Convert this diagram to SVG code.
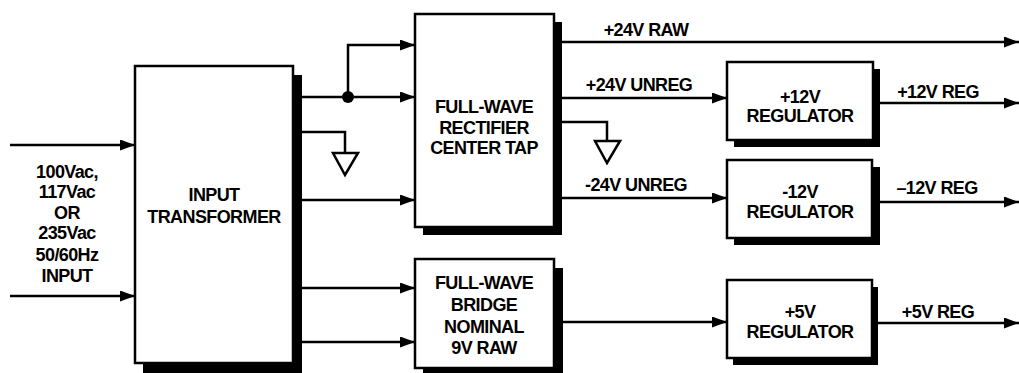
<svg xmlns="http://www.w3.org/2000/svg" width="1019" height="373" viewBox="0 0 1019 373">
<style>
  .box { fill: #fff; stroke: #000; stroke-width: 2.5; }
  .shadow { fill: #000; }
  .t { font-family: "Liberation Sans", Arial, sans-serif; font-weight: bold; font-size: 18px; letter-spacing: -0.6px; fill: #000; text-anchor: middle; }
  .w { fill: none; stroke: #000; stroke-width: 2.5; }
  .a { marker-end: url(#arr); }
  .gnd { fill: #fff; stroke: #000; stroke-width: 2.5; stroke-linejoin: miter; }
</style>
<defs>
  <marker id="arr" markerUnits="userSpaceOnUse" markerWidth="16" markerHeight="12" refX="15" refY="5.5" orient="auto">
    <path d="M0,0 L15,5.5 L0,11 z" fill="#000"/>
  </marker>
</defs>
<rect width="1019" height="373" fill="#fff"/>

<g id="connectors">
  <path class="w a" d="M10,145 H135"/>
  <path class="w a" d="M10,296 H135"/>
  <path class="w a" d="M302,97 H415"/>
  <path class="w a" d="M348,97 V45 H415"/>
  <circle cx="348" cy="97" r="6" fill="#000"/>
  <path class="w" d="M302,132 H345 V153"/>
  <polygon class="gnd" points="333,153 358,153 345,175"/>
  <path class="w a" d="M302,200 H415"/>
  <path class="w a" d="M302,288 H415"/>
  <path class="w a" d="M302,342 H415"/>
  <path class="w a" d="M562,42 H1019"/>
  <path class="w a" d="M562,98 H727"/>
  <path class="w" d="M562,122 H607 V141"/>
  <polygon class="gnd" points="595,141 620,141 607,163"/>
  <path class="w a" d="M562,198 H727"/>
  <path class="w a" d="M880,103 H1019"/>
  <path class="w a" d="M880,202 H1019"/>
  <path class="w a" d="M563,322 H727"/>
  <path class="w a" d="M878,323 H1019"/>
</g>

<g id="input-label">
  <text class="t" x="67" y="178">100Vac,</text>
  <text class="t" x="67" y="198">117Vac</text>
  <text class="t" x="67" y="219">OR</text>
  <text class="t" x="67" y="239">235Vac</text>
  <text class="t" x="67" y="261">50/60Hz</text>
  <text class="t" x="67" y="282">INPUT</text>
</g>

<g id="transformer">
  <rect class="shadow" x="143" y="75" width="159" height="298"/>
  <rect class="box" x="135" y="66" width="158" height="297"/>
  <text class="t" x="214" y="201">INPUT</text>
  <text class="t" x="214" y="223">TRANSFORMER</text>
</g>

<g id="rectifier">
  <rect class="shadow" x="423" y="22" width="139" height="213"/>
  <rect class="box" x="415" y="14" width="139" height="213"/>
  <text class="t" x="484" y="113">FULL-WAVE</text>
  <text class="t" x="484" y="134">RECTIFIER</text>
  <text class="t" x="484" y="154">CENTER TAP</text>
</g>

<g id="bridge">
  <rect class="shadow" x="423" y="268" width="140" height="110"/>
  <rect class="box" x="415" y="259" width="139" height="109"/>
  <text class="t" x="484" y="289">FULL-WAVE</text>
  <text class="t" x="484" y="311">BRIDGE</text>
  <text class="t" x="484" y="333">NOMINAL</text>
  <text class="t" x="484" y="354">9V RAW</text>
</g>

<g id="reg-p12">
  <rect class="shadow" x="734" y="69" width="146" height="78"/>
  <rect class="box" x="727" y="62" width="146" height="78"/>
  <text class="t" x="800" y="103">+12V</text>
  <text class="t" x="800" y="122">REGULATOR</text>
</g>

<g id="reg-m12">
  <rect class="shadow" x="734" y="167" width="146" height="78"/>
  <rect class="box" x="727" y="160" width="145" height="78"/>
  <text class="t" x="800" y="198">-12V</text>
  <text class="t" x="800" y="218">REGULATOR</text>
</g>

<g id="reg-p5">
  <rect class="shadow" x="733" y="287" width="145" height="78"/>
  <rect class="box" x="727" y="280" width="145" height="78"/>
  <text class="t" x="800" y="318">+5V</text>
  <text class="t" x="800" y="338">REGULATOR</text>
</g>

<g id="labels">
  <text class="t" x="646" y="36">+24V RAW</text>
  <text class="t" x="639" y="91">+24V UNREG</text>
  <text class="t" x="636" y="191">-24V UNREG</text>
  <text class="t" x="938" y="98">+12V REG</text>
  <text class="t" x="937" y="194">–12V REG</text>
  <text class="t" x="938" y="318">+5V REG</text>
</g>
</svg>
